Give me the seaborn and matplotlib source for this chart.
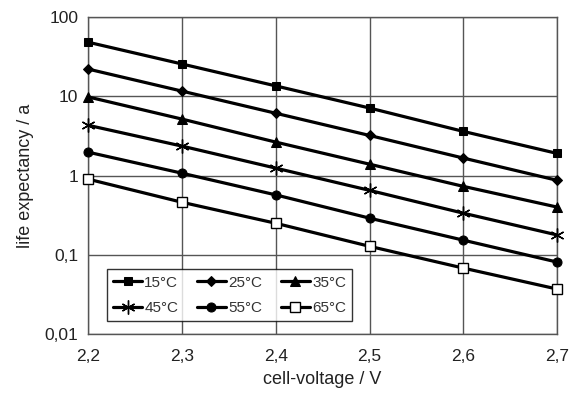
import numpy as np
import pandas as pd
import seaborn as sns
import matplotlib.pyplot as plt
from matplotlib.ticker import FixedLocator, FixedFormatter, NullLocator

# cell voltage in V
voltage = [2.2, 2.3, 2.4, 2.5, 2.6, 2.7]

# life expectancy in years
t15 = [48, 25.5, 13.5, 7.1, 3.6, 1.9]
t25 = [22, 11.6, 6.1, 3.2, 1.66, 0.87]
t35 = [9.8, 5.15, 2.64, 1.39, 0.73, 0.40]
t45 = [4.3, 2.35, 1.24, 0.65, 0.335, 0.178]
t55 = [1.97, 1.07, 0.57, 0.29, 0.153, 0.081]
t65 = [0.9, 0.46, 0.25, 0.128, 0.068, 0.037]

labels = ['15°C', '25°C', '35°C', '45°C', '55°C', '65°C']
series = [t15, t25, t35, t45, t55, t65]

xticks = [2.2, 2.3, 2.4, 2.5, 2.6, 2.7]
xticklabels = ['2,2', '2,3', '2,4', '2,5', '2,6', '2,7']
yticks = [0.01, 0.1, 1, 10, 100]
yticklabels = ['0,01', '0,1', '1', '10', '100']

sns.set_theme(style='white')
plt.rcParams['font.family'] = ['Liberation Sans', 'DejaVu Sans']

fig = plt.figure(figsize=(5.84, 3.94), dpi=100)
ax = fig.add_axes([0.151, 0.152, 0.803, 0.805])

# marker styles: filled square, diamond, triangle, asterisk, circle, open square
styles = [
    dict(marker='s', ms=6, mfc='black'),
    dict(marker='D', ms=5, mfc='black'),
    dict(marker='^', ms=6.5, mfc='black'),
    dict(marker=(6, 2, 0), ms=10, mew=1.0),
    dict(marker='o', ms=6.5, mfc='black'),
    dict(marker='s', ms=7, mfc='white', mew=1.0),
]

for lab, vals, st in zip(labels, series, styles):
    df = pd.DataFrame({'voltage': voltage, 'life': vals})
    sns.lineplot(data=df, x='voltage', y='life', ax=ax, color='black',
                 lw=2.3, mec='black', label=lab, clip_on=False, zorder=3, **st)

ax.set_yscale('log')
ax.set_xlim(2.2, 2.7)
ax.set_ylim(0.01, 100)
ax.xaxis.set_major_locator(FixedLocator(xticks))
ax.xaxis.set_major_formatter(FixedFormatter(xticklabels))
ax.yaxis.set_major_locator(FixedLocator(yticks))
ax.yaxis.set_major_formatter(FixedFormatter(yticklabels))
ax.yaxis.set_minor_locator(NullLocator())

ax.grid(True, color='#555555', lw=1.0)
for s in ax.spines.values():
    s.set_color('#555555')
    s.set_linewidth(1.0)
ax.tick_params(axis='both', which='major', direction='out', length=4,
               width=1, color='#333333', labelsize=12.5, labelcolor='#222222', pad=3)
ax.tick_params(axis='x', pad=7)

ax.set_xlabel('cell-voltage / V', fontsize=13, color='#222222', labelpad=5)
ax.set_ylabel('life expectancy / a', fontsize=13, color='#222222', labelpad=8)

# legend is filled column-wise, so reorder to get rows 15/25/35 and 45/55/65
handles, labs = ax.get_legend_handles_labels()
order = [0, 3, 1, 4, 2, 5]
leg = ax.legend([handles[i] for i in order], [labs[i] for i in order],
                ncol=3, loc='lower left', bbox_to_anchor=(0.04, 0.041, 0.523, 0.17),
                mode='expand', frameon=True, fancybox=False, edgecolor='black',
                fontsize=11, handlelength=1.9, handletextpad=0.15, columnspacing=1.0,
                borderaxespad=0, labelspacing=0.75)
leg.get_frame().set_linewidth(1.0)
for t in leg.get_texts():
    t.set_color('#333333')

fig.savefig('out.png', dpi=100)
